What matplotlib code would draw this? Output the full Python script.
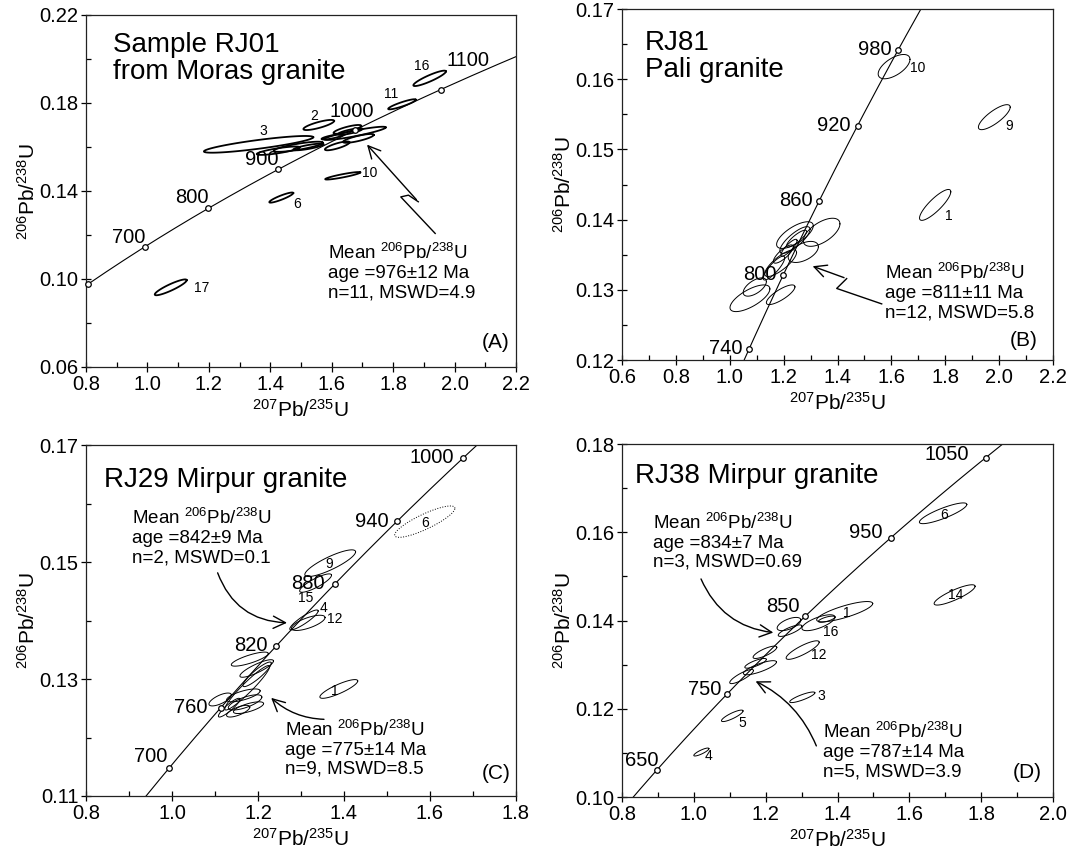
import numpy as np
import matplotlib
matplotlib.use('Agg')
import matplotlib.pyplot as plt
from matplotlib.ticker import FixedLocator, FormatStrFormatter

plt.rcParams['font.family'] = ['Liberation Sans', 'DejaVu Sans']
plt.rcParams['mathtext.fontset'] = 'custom'
plt.rcParams['mathtext.rm'] = 'Liberation Sans'
plt.rcParams['mathtext.default'] = 'regular'

# decay constants (1/yr) for the concordia
L238 = 1.55125e-10
L235 = 9.8485e-10

# ---- (A) RJ01, Moras granite ----
A_ages = [600, 700, 800, 900, 1000, 1100]
A_age_lab = ['', '700', '800', '900', '1000', '1100']
# ellipse centre, half width (207/235), half height (206/238), rho
A_x = [1.076, 1.919, 1.829, 1.558, 1.362, 1.636, 1.436,
       1.491, 1.426, 1.524, 1.618, 1.676, 1.651, 1.687, 1.602, 1.660]
A_y = [0.0962, 0.1912, 0.1794, 0.1700, 0.1612, 0.1469, 0.1370,
       0.1601, 0.1583, 0.1600, 0.1605, 0.1662, 0.1680, 0.1639, 0.1646, 0.1670]
A_ex = [0.052, 0.053, 0.045, 0.050, 0.178, 0.057, 0.039,
        0.080, 0.070, 0.049, 0.040, 0.100, 0.045, 0.050, 0.035, 0.040]
A_ey = [0.0036, 0.0035, 0.0023, 0.0023, 0.0038, 0.0017, 0.0023,
        0.0023, 0.0019, 0.0015, 0.0020, 0.0030, 0.0020, 0.0020, 0.0012, 0.0015]
A_rho = [0.9, 0.9, 0.9, 0.8, 0.85, 0.9, 0.9,
         0.8, 0.8, 0.8, 0.8, 0.9, 0.8, 0.8, 0.8, 0.8]
A_num = ['17', '16', '11', '2', '3', '10', '6']
A_num_x = [1.177, 1.893, 1.793, 1.544, 1.378, 1.725, 1.488]
A_num_y = [0.0961, 0.1969, 0.1839, 0.1740, 0.1672, 0.1480, 0.1343]

# ---- (B) RJ81, Pali granite ----
B_ages = [740, 800, 860, 920, 980]
B_age_lab = ['740', '800', '860', '920', '980']
B_x = [1.610, 1.982, 1.7625, 1.341, 1.242, 1.273, 1.242, 1.189,
       1.075, 1.093, 1.189, 1.164, 1.248, 1.199, 1.220]
B_y = [0.1618, 0.1546, 0.1421, 0.1382, 0.1378, 0.1354, 0.1371, 0.1338,
       0.1288, 0.1304, 0.1293, 0.1331, 0.1373, 0.1351, 0.1360]
B_ex = [0.059, 0.059, 0.058, 0.068, 0.068, 0.056, 0.056, 0.059,
        0.074, 0.043, 0.053, 0.040, 0.037, 0.037, 0.030]
B_ey = [0.00173, 0.00178, 0.0022, 0.0020, 0.0019, 0.0015, 0.0019, 0.0019,
        0.0019, 0.0013, 0.0014, 0.0017, 0.0012, 0.0013, 0.0012]
B_rho = [0.6, 0.8, 0.85, 0.6, 0.7, 0.5, 0.8, 0.8,
         0.7, 0.6, 0.8, 0.85, 0.85, 0.8, 0.85]
B_num = ['10', '9', '1']
B_num_x = [1.697, 2.039, 1.812]
B_num_y = [0.1616, 0.1534, 0.1405]

# ---- (C) RJ29, Mirpur granite ----
C_ages = [700, 760, 820, 880, 940, 1000]
C_age_lab = ['700', '760', '820', '880', '940', '1000']
C_x = [1.588, 1.368, 1.334, 1.307, 1.317, 1.388,
       1.181, 1.197, 1.198, 1.175, 1.112, 1.166, 1.170, 1.178, 1.154, 1.133]
C_y = [0.1569, 0.1498, 0.1464, 0.1401, 0.1396, 0.1283,
       0.1334, 0.1318, 0.1308, 0.1285, 0.1265, 0.1272, 0.1260, 0.1251, 0.1245, 0.1251]
C_ex = [0.070, 0.059, 0.037, 0.033, 0.039, 0.044,
        0.043, 0.039, 0.033, 0.052, 0.026, 0.039, 0.039, 0.035, 0.027, 0.025]
C_ey = [0.00268, 0.00228, 0.00157, 0.0017, 0.0013, 0.0016,
        0.0012, 0.0015, 0.0021, 0.0038, 0.0011, 0.0011, 0.0013, 0.0010, 0.0010, 0.0016]
C_rho = [0.85, 0.85, 0.85, 0.9, 0.7, 0.85,
         0.8, 0.85, 0.9, 0.95, 0.7, 0.7, 0.7, 0.7, 0.7, 0.9]
C_num = ['6', '9', '15', '4', '12', '1']
C_num_x = [1.588, 1.366, 1.312, 1.353, 1.379, 1.379]
C_num_y = [0.1567, 0.1496, 0.1438, 0.1421, 0.1402, 0.1280]

# ---- (D) RJ38, Mirpur granite ----
D_ages = [650, 750, 850, 950, 1050]
D_age_lab = ['650', '750', '850', '950', '1050']
D_x = [1.694, 1.726, 1.420, 1.347, 1.370, 1.265, 1.268, 1.303,
       1.198, 1.172, 1.184, 1.133, 1.302, 1.107, 1.021]
D_y = [0.1643, 0.1458, 0.1420, 0.1395, 0.1403, 0.1392, 0.1377, 0.1333,
       0.1328, 0.1303, 0.1293, 0.1273, 0.1226, 0.1184, 0.1102]
D_ex = [0.066, 0.057, 0.078, 0.046, 0.023, 0.033, 0.033, 0.046,
        0.033, 0.030, 0.046, 0.033, 0.035, 0.030, 0.021]
D_ey = [0.00235, 0.0023, 0.0023, 0.0018, 0.0007, 0.0015, 0.0013, 0.0021,
        0.0014, 0.0011, 0.0016, 0.0016, 0.0012, 0.0013, 0.0009]
D_rho = [0.85, 0.85, 0.8, 0.7, 0.7, 0.6, 0.8, 0.85,
         0.8, 0.8, 0.8, 0.85, 0.85, 0.85, 0.85]
D_num = ['6', '14', '1', '16', '12', '3', '5', '4']
D_num_x = [1.697, 1.728, 1.426, 1.381, 1.347, 1.356, 1.135, 1.042]
D_num_y = [0.1640, 0.1458, 0.1418, 0.1375, 0.1321, 0.1229, 0.1168, 0.1092]


def concordia(t_ma):
    t = np.asarray(t_ma, dtype=float) * 1e6
    return np.exp(L235 * t) - 1, np.exp(L238 * t) - 1


def ellipse(x, y, ex, ey, r, n=120):
    t = np.linspace(0, 2 * np.pi, n)
    return x + ex * np.cos(t), y + ey * (r * np.cos(t) + np.sqrt(1 - r * r) * np.sin(t))


def ticks(lo, hi, step):
    n = int(round((hi - lo) / step))
    return [round(lo + i * step, 5) for i in range(n + 1)]


def setup(ax, xlim, ylim, xmaj, ymaj):
    ax.set_xlim(xlim)
    ax.set_ylim(ylim)
    ax.xaxis.set_major_locator(FixedLocator(ticks(xlim[0], xlim[1], xmaj)))
    ax.xaxis.set_minor_locator(FixedLocator(ticks(xlim[0], xlim[1], xmaj / 2)))
    ax.yaxis.set_major_locator(FixedLocator(ticks(ylim[0], ylim[1], ymaj)))
    ax.yaxis.set_minor_locator(FixedLocator(ticks(ylim[0], ylim[1], ymaj / 2)))
    ax.xaxis.set_major_formatter(FormatStrFormatter('%.1f'))
    ax.yaxis.set_major_formatter(FormatStrFormatter('%.2f'))
    ax.tick_params(which='major', direction='inout', length=7, width=0.9,
                   labelsize=14.5, pad=2)
    ax.tick_params(which='minor', direction='in', length=3.5, width=0.9)
    for s in ax.spines.values():
        s.set_linewidth(0.9)
        s.set_color('#222222')
    ax.set_xlabel(r'$^{207}$Pb/$^{235}$U', fontsize=15, labelpad=4)
    ax.set_ylabel(r'$^{206}$Pb/$^{238}$U', fontsize=15, labelpad=0)


def draw(ax, ages, age_lab, age_off, xs, ys, exs, eys, rhos, num, num_x, num_y,
         elw=0.7, dotted=()):
    tx, ty = concordia(np.linspace(400, 1400, 400))
    ax.plot(tx, ty, color='black', lw=0.8, zorder=2)
    mx, my = concordia(ages)
    ax.plot(mx, my, 'o', ms=4, mfc='white', mec='black', mew=0.9, zorder=4, clip_on=False)
    for i in range(len(ages)):
        if age_lab[i]:
            dx, dy, ha, va = age_off[i]
            ax.annotate(age_lab[i], (mx[i], my[i]), xytext=(dx, dy),
                        textcoords='offset points', ha=ha, va=va, fontsize=14.5)
    for i in range(len(xs)):
        ex_, ey_ = ellipse(xs[i], ys[i], exs[i], eys[i], rhos[i])
        ls = ':' if i in dotted else '-'
        ax.plot(ex_, ey_, color='black', lw=elw, ls=ls, zorder=3)
    for i in range(len(num)):
        ax.text(num_x[i], num_y[i], num[i], fontsize=10, ha='center', va='center', zorder=5)


def arrow_path(ax, pts, lw=1.0):
    px = [p[0] for p in pts]
    py = [p[1] for p in pts]
    ax.plot(px[:-1], py[:-1], color='black', lw=lw)
    ax.annotate('', xy=pts[-1], xytext=pts[-2],
                arrowprops=dict(arrowstyle='->', lw=lw, color='black', mutation_scale=22))


fig = plt.figure(figsize=(10.72, 8.56), dpi=100)
axA = fig.add_axes([0.0802, 0.5713, 0.4011, 0.4112])
axB = fig.add_axes([0.5802, 0.5794, 0.4021, 0.4100])
axC = fig.add_axes([0.0802, 0.0701, 0.4011, 0.4100])
axD = fig.add_axes([0.5802, 0.0689, 0.4021, 0.4124])

mean_fs = 13.5

# (A)
setup(axA, (0.8, 2.2), (0.06, 0.22), 0.2, 0.04)
draw(axA, A_ages, A_age_lab,
     [(0, 0, 'right', 'bottom'), (0, 0, 'right', 'bottom'), (0, 1, 'right', 'bottom'),
      (0, 0, 'right', 'bottom'), (-3, 6, 'center', 'bottom'), (4, 14, 'left', 'bottom')],
     A_x, A_y, A_ex, A_ey, A_rho, A_num, A_num_x, A_num_y, elw=1.3)
axA.text(0.063, 0.952, 'Sample RJ01\nfrom Moras granite', transform=axA.transAxes,
         fontsize=20, va='top', ha='left', linespacing=1.05)
axA.text(0.563, 0.352, 'Mean $^{206}$Pb/$^{238}$U\nage =976±12 Ma\nn=11, MSWD=4.9',
         transform=axA.transAxes, fontsize=mean_fs, va='top', ha='left', linespacing=1.15)
axA.text(0.986, 0.043, '(A)', transform=axA.transAxes, fontsize=15, ha='right', va='bottom')
arrow_path(axA, [(1.937, 0.1207), (1.825, 0.1373), (1.850, 0.1381), (1.882, 0.1351), (1.709, 0.1620)])

# (B)
setup(axB, (0.6, 2.2), (0.12, 0.17), 0.2, 0.01)
draw(axB, B_ages, B_age_lab, [(-5, 0, 'right', 'center')] * 5,
     B_x, B_y, B_ex, B_ey, B_rho, B_num, B_num_x, B_num_y)
axB.text(0.053, 0.94, 'RJ81\nPali granite', transform=axB.transAxes,
         fontsize=20, va='top', ha='left', linespacing=1.05)
axB.text(0.61, 0.276, 'Mean $^{206}$Pb/$^{238}$U\nage =811±11 Ma\nn=12, MSWD=5.8',
         transform=axB.transAxes, fontsize=mean_fs, va='top', ha='left', linespacing=1.15)
axB.text(0.965, 0.028, '(B)', transform=axB.transAxes, fontsize=15, ha='right', va='bottom')
arrow_path(axB, [(1.564, 0.1280), (1.397, 0.1302), (1.434, 0.1316), (1.298, 0.1335)])

# (C)
setup(axC, (0.8, 1.8), (0.11, 0.17), 0.2, 0.02)
draw(axC, C_ages, C_age_lab,
     [(-1, 2, 'right', 'bottom'), (-10, 0, 'right', 'center'), (-6, 0, 'right', 'center'),
      (-7, 0, 'right', 'center'), (-6, 0, 'right', 'center'), (-7, 0, 'right', 'center')],
     C_x, C_y, C_ex, C_ey, C_rho, C_num, C_num_x, C_num_y, dotted=(0,))
axC.text(0.042, 0.937, 'RJ29 Mirpur granite', transform=axC.transAxes,
         fontsize=20, va='top', ha='left')
axC.text(0.107, 0.82, 'Mean $^{206}$Pb/$^{238}$U\nage =842±9 Ma\nn=2, MSWD=0.1',
         transform=axC.transAxes, fontsize=mean_fs, va='top', ha='left', linespacing=1.15)
axC.text(0.463, 0.217, 'Mean $^{206}$Pb/$^{238}$U\nage =775±14 Ma\nn=9, MSWD=8.5',
         transform=axC.transAxes, fontsize=mean_fs, va='top', ha='left', linespacing=1.15)
axC.text(0.988, 0.037, '(C)', transform=axC.transAxes, fontsize=15, ha='right', va='bottom')
axC.annotate('', xy=(1.274, 0.1396), xytext=(1.104, 0.1486),
             arrowprops=dict(arrowstyle='->', lw=1.0, color='black', mutation_scale=22,
                             connectionstyle='arc3,rad=0.35'))
axC.annotate('', xy=(1.226, 0.1271), xytext=(1.360, 0.1231),
             arrowprops=dict(arrowstyle='->', lw=1.0, color='black', mutation_scale=22,
                             connectionstyle='arc3,rad=-0.2'))

# (D)
setup(axD, (0.8, 2.0), (0.10, 0.18), 0.2, 0.02)
draw(axD, D_ages, D_age_lab,
     [(1, 0, 'right', 'bottom'), (-4, 3, 'right', 'center'), (-4, 0, 'right', 'bottom'),
      (-6, 4, 'right', 'center'), (-12, 2, 'right', 'center')],
     D_x, D_y, D_ex, D_ey, D_rho, D_num, D_num_x, D_num_y)
axD.text(0.030, 0.946, 'RJ38 Mirpur granite', transform=axD.transAxes,
         fontsize=20, va='top', ha='left')
axD.text(0.072, 0.805, 'Mean $^{206}$Pb/$^{238}$U\nage =834±7 Ma\nn=3, MSWD=0.69',
         transform=axD.transAxes, fontsize=mean_fs, va='top', ha='left', linespacing=1.15)
axD.text(0.466, 0.212, 'Mean $^{206}$Pb/$^{238}$U\nage =787±14 Ma\nn=5, MSWD=3.9',
         transform=axD.transAxes, fontsize=mean_fs, va='top', ha='left', linespacing=1.15)
axD.text(0.975, 0.042, '(D)', transform=axD.transAxes, fontsize=15, ha='right', va='bottom')
axD.annotate('', xy=(1.229, 0.1372), xytext=(1.017, 0.1500),
             arrowprops=dict(arrowstyle='->', lw=1.0, color='black', mutation_scale=22,
                             connectionstyle='arc3,rad=0.3'))
axD.annotate('', xy=(1.165, 0.1265), xytext=(1.344, 0.1110),
             arrowprops=dict(arrowstyle='->', lw=1.0, color='black', mutation_scale=22,
                             connectionstyle='arc3,rad=0.2'))

fig.savefig('out.png', dpi=100)
